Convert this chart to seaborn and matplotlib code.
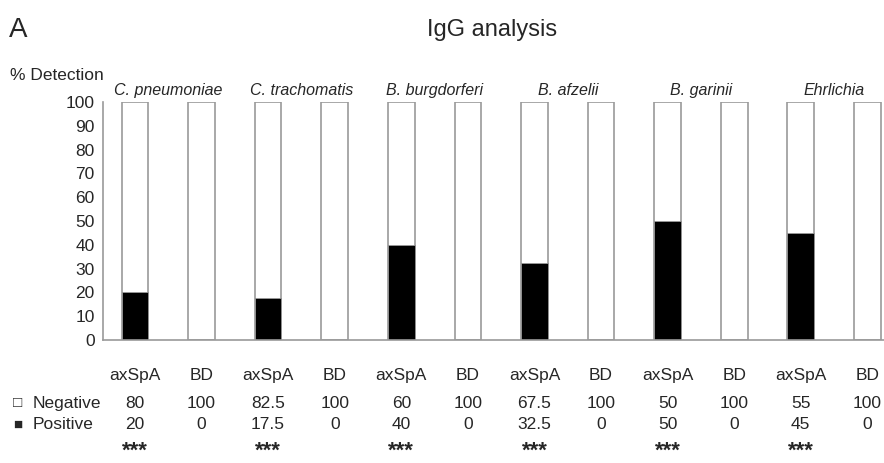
import pandas as pd
import matplotlib.pyplot as plt
import matplotlib.transforms as mtransforms
import seaborn as sns

# data
pathogens = ["C. pneumoniae", "C. trachomatis", "B. burgdorferi", "B. afzelii", "B. garinii", "Ehrlichia"]
groups = ["axSpA", "BD"]
negative = [80, 100, 82.5, 100, 60, 100, 67.5, 100, 50, 100, 55, 100]
positive = [20, 0, 17.5, 0, 40, 0, 32.5, 0, 50, 0, 45, 0]
neg_labels = ["80", "100", "82.5", "100", "60", "100", "67.5", "100", "50", "100", "55", "100"]
pos_labels = ["20", "0", "17.5", "0", "40", "0", "32.5", "0", "50", "0", "45", "0"]
stars = ["***", "***", "***", "***", "***", "***"]

sns.set_style("white")
plt.rcParams['font.family'] = ['Liberation Sans', 'DejaVu Sans']

rows = []
for i, p in enumerate(pathogens):
	for j, g in enumerate(groups):
		k = i * 2 + j
		rows.append({"bar": p + "|" + g, "group": g, "total": negative[k] + positive[k], "pos": positive[k]})
data = pd.DataFrame(rows)

fig = plt.figure(figsize=(8.84, 4.63), dpi=100)
ax = fig.add_axes([0.1165, 0.2657, 0.8835, 0.514])

# stacked: full white bar (negative on top) then black positive part
sns.barplot(x="bar", y="total", data=data, color="white", edgecolor="#9a9a9a", linewidth=1.2, width=0.4, ax=ax)
sns.barplot(x="bar", y="pos", data=data, color="black", edgecolor="#9a9a9a", linewidth=0.6, width=0.4, ax=ax)

fs = 12.5
ax.set_ylim(0, 100)
ax.set_xlim(-0.48, 11.25)
ax.set_yticks(range(0, 101, 10))
ax.tick_params(axis='y', labelsize=fs, length=3, color="#9a9a9a", pad=3)
ax.set_xticks(range(len(data)))
ax.set_xticklabels(data["group"], fontsize=fs)
ax.tick_params(axis='x', length=0, pad=20)
ax.set_xlabel("")
ax.set_ylabel("")
for s in ["top", "right"]:
	ax.spines[s].set_visible(False)
for s in ["left", "bottom"]:
	ax.spines[s].set_color("#9a9a9a")
	ax.spines[s].set_linewidth(1.2)

# pathogen names above each pair
for i, p in enumerate(pathogens):
	ax.text(i * 2 + 0.5, 101.5, p, ha="center", va="bottom", fontsize=11.5, style="italic")

# table below
trans = ax.get_xaxis_transform()
for k in range(len(data)):
	ax.text(k, -0.265, neg_labels[k], ha="center", va="center", fontsize=fs, transform=trans)
	ax.text(k, -0.355, pos_labels[k], ha="center", va="center", fontsize=fs, transform=trans)

# significance stars, x in data units, y in figure units
star_trans = mtransforms.blended_transform_factory(ax.transData, fig.transFigure)
for i, s in enumerate(stars):
	ax.text(i * 2, 0.002, s, ha="center", va="bottom", fontsize=16, fontweight="bold", transform=star_trans)

fig.text(0.015, 0.129, "\u25a1", fontsize=11, va="center", ha="left")
fig.text(0.037, 0.129, "Negative", fontsize=fs, va="center", ha="left")
fig.text(0.015, 0.083, "\u25a0", fontsize=11, va="center", ha="left")
fig.text(0.037, 0.083, "Positive", fontsize=fs, va="center", ha="left")

fig.text(0.010, 0.935, "A", fontsize=20, va="center", ha="left")
fig.text(0.557, 0.935, "IgG analysis", fontsize=17, va="center", ha="center")
fig.text(0.011, 0.838, "% Detection", fontsize=12.5, va="center", ha="left")

plt.savefig("out.png", dpi=100)
